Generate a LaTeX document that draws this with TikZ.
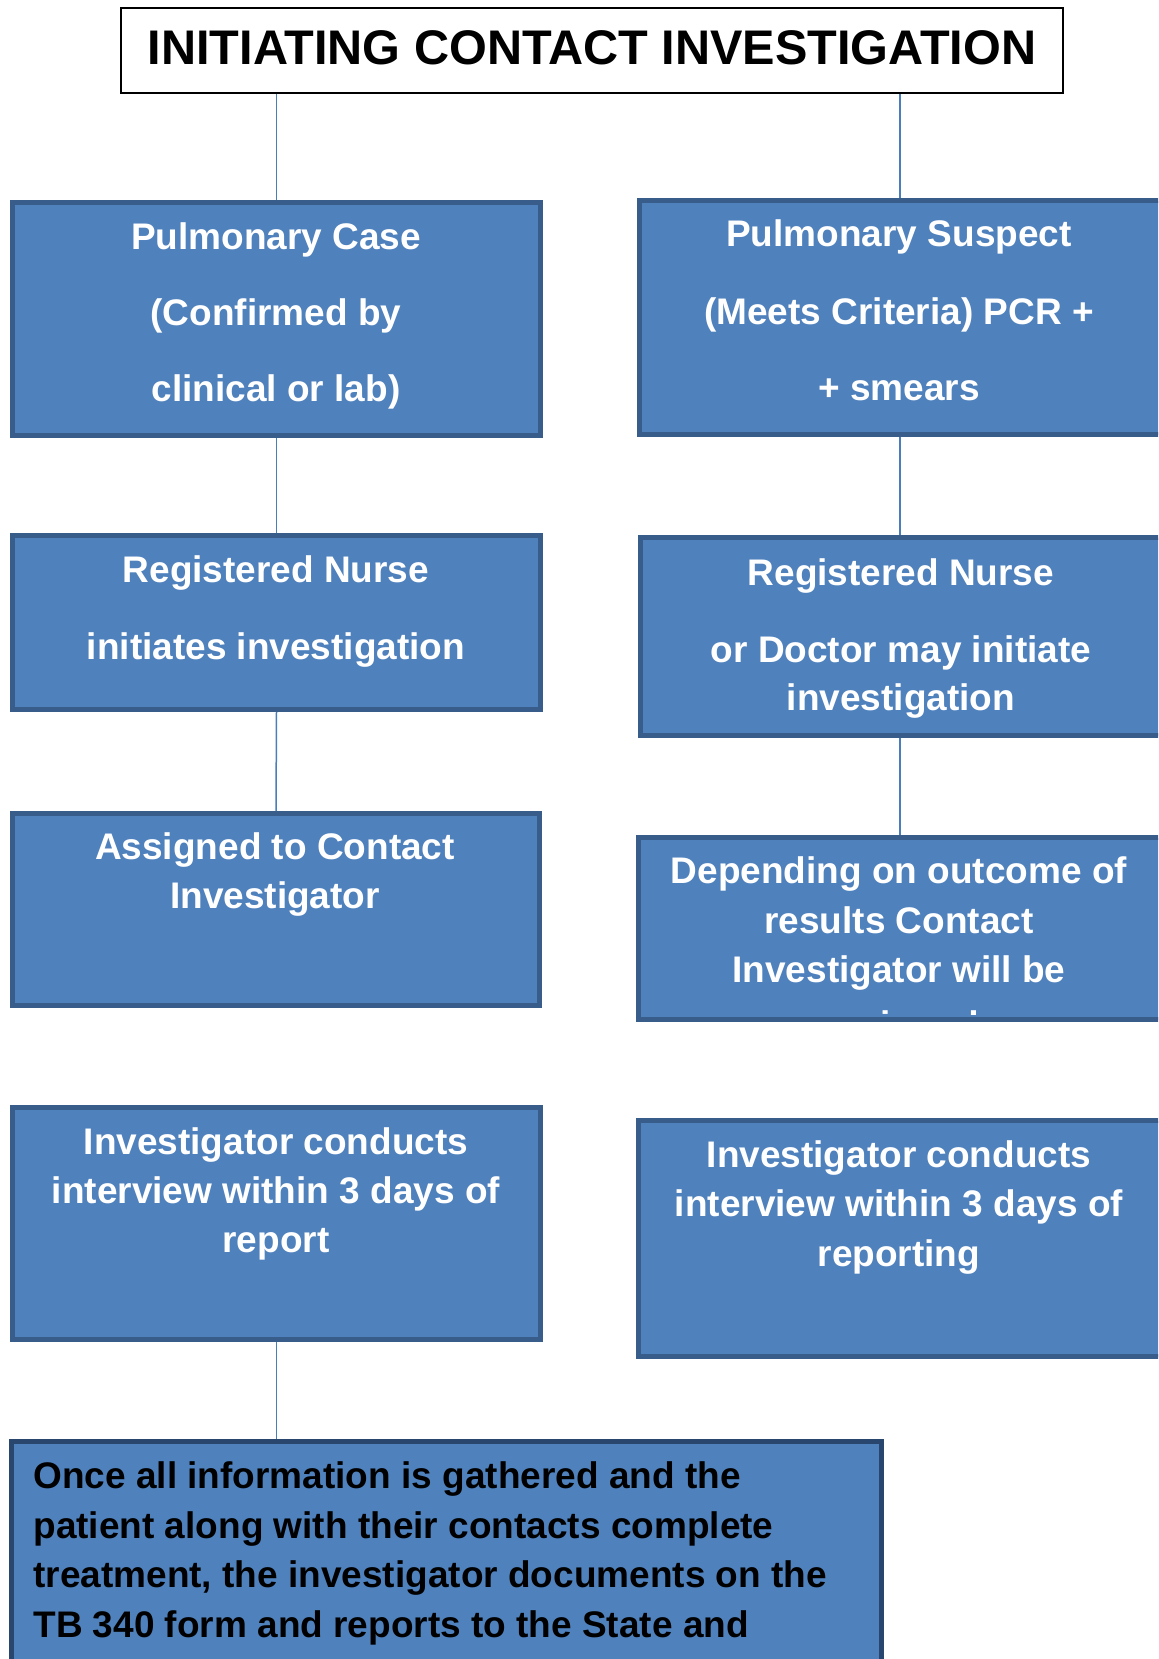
\documentclass[tikz,border=0pt]{standalone}
\usepackage{fontspec}
\setmainfont{Liberation Sans}
\definecolor{boxfill}{HTML}{4F81BD}
\definecolor{boxedge}{HTML}{385D8A}
\definecolor{darkedge}{HTML}{29466E}
\definecolor{linkblue}{HTML}{4A7EBB}
\newcommand\bxfont{\fontsize{18.5pt}{22pt}\selectfont\bfseries}
\newcommand\ttlfont{\fontsize{24.3pt}{28pt}\selectfont\bfseries}
\begin{document}
\begin{tikzpicture}[x=0.5pt,y=-0.5pt,
  box/.style={draw=boxedge, fill=boxfill, line width=2.5pt, inner sep=0pt, rectangle},
  titlebox/.style={draw=black, fill=white, line width=1pt, inner sep=0pt, rectangle},
  wt/.style={text=white, font=\bxfont, inner sep=0pt, anchor=base},
  bt/.style={text=black, font=\bxfont, inner sep=0pt, anchor=base west},
  link/.style={draw=linkblue, line width=0.75pt}]
\path[use as bounding box] (0,0) rectangle (1158,1659);
\clip (0,0) rectangle (1158,1659);
\fill[white] (0,0) rectangle (1158,1659);

\coordinate (rc) at (900,0);

% boxes
\node[titlebox, minimum width=471pt, minimum height=42.25pt] (T) at (592,50.75) {};
\node[box, minimum width=264pt, minimum height=116.5pt] (L1) at (276.5,319) {};
\node[box, minimum width=280.25pt, minimum height=117pt] (R1) at (919.75,317.5) {};
\node[box, minimum width=264pt, minimum height=87pt] (L2) at (276.5,622.5) {};
\node[box, minimum width=279.75pt, minimum height=99pt] (R2) at (920.25,636.5) {};
\node[box, minimum width=263.5pt, minimum height=96pt] (L3) at (276,909.5) {};
\node[box, minimum width=280.75pt, minimum height=91pt] (R3) at (919.25,928.5) {};
\node[box, minimum width=264pt, minimum height=116pt] (L4) at (276.5,1223.5) {};
\node[box, minimum width=280.75pt, minimum height=118pt] (R4) at (919.25,1238.5) {};
\node[box, draw=darkedge, minimum width=435.25pt, minimum height=119.25pt] (B) at (446.25,1560.75) {};

% connectors
\draw[link] (L1.north |- T.south) -- (L1.north);
\draw[link] (T.south -| rc) -- (R1.north -| rc);
\draw[link] (L1.south) -- (L2.north);
\draw[link] (L2.south) -- (L3.north);
\draw[link] (R1.south -| rc) -- (R2.north -| rc);
\draw[link] (R2.south -| rc) -- (R3.north -| rc);
\draw[link] (L4.south) -- (L4.south |- B.north);

% title
\node[font=\ttlfont, inner sep=0pt, anchor=base] (tt) at (592,64.5) {INITIATING CONTACT INVESTIGATION};

% left column
\node[wt] (l1a) at (276,249) {Pulmonary Case};
\node[wt] (l1b) at (276,325) {(Confirmed by};
\node[wt] (l1c) at (276,401) {clinical or lab)};
\node[wt] (l2a) at (276,582) {Registered Nurse};
\node[wt] (l2b) at (276,659) {initiates investigation};
\node[wt] (l3a) at (275,859) {Assigned to Contact};
\node[wt] (l3b) at (275,908) {Investigator};
\node[wt] (l4a) at (276,1154) {Investigator conducts};
\node[wt] (l4b) at (276,1203) {interview within 3 days of};
\node[wt] (l4c) at (276,1252) {report};

% right column
\node[wt] (r1a) at (899,246) {Pulmonary Suspect};
\node[wt] (r1b) at (899,324) {(Meets Criteria) PCR +};
\node[wt] (r1c) at (899,400) {+ smears};
\node[wt] (r2a) at (901,585) {Registered Nurse};
\node[wt] (r2b) at (901,662) {or Doctor may initiate};
\node[wt] (r2c) at (901,710) {investigation};
\node[wt] (r3a) at (899,883) {Depending on outcome of};
\node[wt] (r3b) at (899,933) {results Contact};
\node[wt] (r3c) at (899,982) {Investigator will be};
\begin{scope}
\clip (640,990) rectangle (1158,1014);
\node[wt] (r3d) at (899,1037) {assigned};
\end{scope}
\node[wt] (r4a) at (899,1167) {Investigator conducts};
\node[wt] (r4b) at (899,1216) {interview within 3 days of};
\node[wt] (r4c) at (899,1266) {reporting};

% bottom box
\node[bt] (b1) at (33,1488) {Once all information is gathered and the};
\node[bt] (b2) at (33,1538) {patient along with their contacts complete};
\node[bt] (b3) at (33,1587) {treatment, the investigator documents on the};
\node[bt] (b4) at (33,1637) {TB 340 form and reports to the State and};
\end{tikzpicture}
\end{document}
